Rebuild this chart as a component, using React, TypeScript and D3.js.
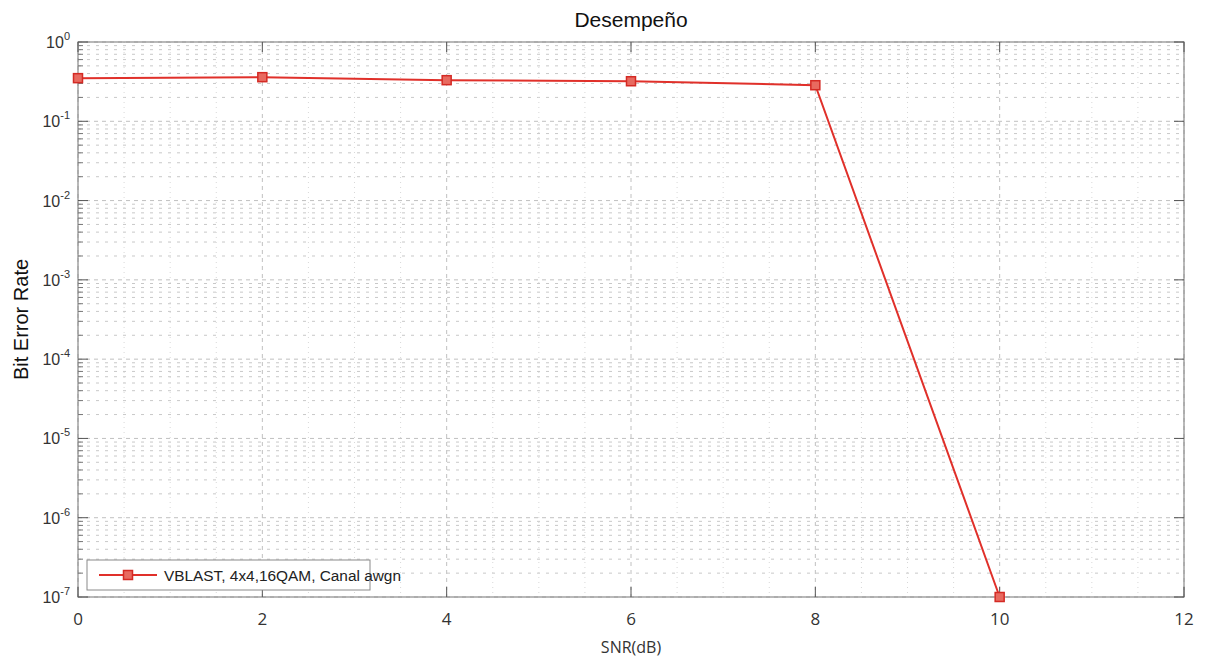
import React, { useRef, useEffect } from "react";
import * as d3 from "d3";

const snr = [0, 2, 4, 6, 8, 10];
const ber = [0.35, 0.36, 0.33, 0.32, 0.285, 1e-7];
const xTicks = [0, 2, 4, 6, 8, 10, 12];
const yExponents = [0, -1, -2, -3, -4, -5, -6, -7];
const seriesName = "VBLAST, 4x4,16QAM, Canal awgn";

const W = 1207;
const H = 658;

const App = () => {
  const ref = useRef<SVGSVGElement>(null);

  useEffect(() => {
    const svg = d3.select(ref.current);
    svg.selectAll("*").remove();

    const margin = { top: 42, right: 23, bottom: 61, left: 78 };
    const width = W - margin.left - margin.right;
    const height = H - margin.top - margin.bottom;

    const x = d3.scaleLinear().domain([0, 12]).range([0, width]);
    const y = d3.scaleLog().domain([1e-7, 1]).range([height, 0]);

    const g = svg
      .append("g")
      .attr("transform", `translate(${margin.left},${margin.top})`);

    // minor horizontal grid
    const minor: number[] = [];
    for (let e = -7; e < 0; e++) {
      for (let m = 2; m <= 9; m++) minor.push(m * Math.pow(10, e));
    }
    g.append("g")
      .selectAll("line")
      .data(minor)
      .enter()
      .append("line")
      .attr("x1", 0)
      .attr("x2", width)
      .attr("y1", (d) => y(d))
      .attr("y2", (d) => y(d))
      .attr("stroke", "#c8c8c8")
      .attr("stroke-width", 1)
      .attr("stroke-dasharray", "3,6");

    // minor vertical grid
    const minorX = d3.range(0, 12.001, 0.5).filter((v) => v % 2 !== 0);
    g.append("g")
      .selectAll("line")
      .data(minorX)
      .enter()
      .append("line")
      .attr("x1", (d) => x(d))
      .attr("x2", (d) => x(d))
      .attr("y1", 0)
      .attr("y2", height)
      .attr("stroke", "#d8d8d8")
      .attr("stroke-width", 1)
      .attr("stroke-dasharray", "1,4");

    // major grids
    g.append("g")
      .selectAll("line")
      .data(yExponents)
      .enter()
      .append("line")
      .attr("x1", 0)
      .attr("x2", width)
      .attr("y1", (d) => y(Math.pow(10, d)))
      .attr("y2", (d) => y(Math.pow(10, d)))
      .attr("stroke", "#c0c0c0")
      .attr("stroke-dasharray", "4,4");
    g.append("g")
      .selectAll("line")
      .data(xTicks)
      .enter()
      .append("line")
      .attr("x1", (d) => x(d))
      .attr("x2", (d) => x(d))
      .attr("y1", 0)
      .attr("y2", height)
      .attr("stroke", "#c0c0c0")
      .attr("stroke-dasharray", "4,4");

    // box
    g.append("rect")
      .attr("width", width)
      .attr("height", height)
      .attr("fill", "none")
      .attr("stroke", "#8a8a8a")
      .attr("stroke-width", 1.2);

    // ticks
    g.append("g")
      .selectAll("g")
      .data(xTicks)
      .enter()
      .append("g")
      .each(function (d) {
        const t = d3.select(this);
        t.append("line")
          .attr("x1", x(d)).attr("x2", x(d))
          .attr("y1", height).attr("y2", height - 10)
          .attr("stroke", "#555");
        t.append("line")
          .attr("x1", x(d)).attr("x2", x(d))
          .attr("y1", 0).attr("y2", 10)
          .attr("stroke", "#555");
      });
    g.append("g")
      .selectAll("g")
      .data(yExponents)
      .enter()
      .append("g")
      .each(function (d) {
        const yy = y(Math.pow(10, d));
        const t = d3.select(this);
        t.append("line").attr("x1", 0).attr("x2", 10).attr("y1", yy).attr("y2", yy).attr("stroke", "#555");
        t.append("line").attr("x1", width).attr("x2", width - 10).attr("y1", yy).attr("y2", yy).attr("stroke", "#555");
      });
    g.append("g")
      .selectAll("line")
      .data(minor)
      .enter()
      .append("line")
      .attr("x1", 0)
      .attr("x2", 5)
      .attr("y1", (d) => y(d))
      .attr("y2", (d) => y(d))
      .attr("stroke", "#777");

    // tick labels
    g.append("g")
      .selectAll("text")
      .data(xTicks)
      .enter()
      .append("text")
      .attr("x", (d) => x(d))
      .attr("y", height + 28)
      .attr("text-anchor", "middle")
      .attr("font-family", "Open Sans, sans-serif")
      .attr("font-size", 17)
      .attr("fill", "#333")
      .text((d) => d);

    const yl = g
      .append("g")
      .selectAll("text")
      .data(yExponents)
      .enter()
      .append("text")
      .attr("x", -8)
      .attr("y", (d) => y(Math.pow(10, d)) + 6)
      .attr("text-anchor", "end")
      .attr("font-family", "Liberation Sans, Arial, sans-serif")
      .attr("font-size", 16)
      .attr("fill", "#333");
    yl.append("tspan").text("10");
    yl.append("tspan")
      .attr("dy", -8)
      .attr("font-size", 11)
      .text((d) => String(d));

    // series
    const pts = snr.map((s, i) => [s, ber[i]] as [number, number]);
    const line = d3
      .line<[number, number]>()
      .x((d) => x(d[0]))
      .y((d) => y(d[1]));
    g.append("path")
      .datum(pts)
      .attr("d", line)
      .attr("fill", "none")
      .attr("stroke", "#e0302a")
      .attr("stroke-width", 2);
    g.append("g")
      .selectAll("rect")
      .data(pts)
      .enter()
      .append("rect")
      .attr("x", (d) => x(d[0]) - 4.5)
      .attr("y", (d) => y(d[1]) - 4.5)
      .attr("width", 9)
      .attr("height", 9)
      .attr("fill", "#e86a60")
      .attr("stroke", "#d42a24")
      .attr("stroke-width", 1.5);

    // legend
    const lg = g.append("g").attr("transform", `translate(9,${height - 37})`);
    lg.append("rect")
      .attr("width", 283)
      .attr("height", 30)
      .attr("fill", "#fff")
      .attr("stroke", "#8a8a8a");
    lg.append("line")
      .attr("x1", 12).attr("x2", 70)
      .attr("y1", 15).attr("y2", 15)
      .attr("stroke", "#e0302a")
      .attr("stroke-width", 2);
    lg.append("rect")
      .attr("x", 36.5).attr("y", 10.5)
      .attr("width", 9).attr("height", 9)
      .attr("fill", "#e86a60")
      .attr("stroke", "#d42a24")
      .attr("stroke-width", 1.5);
    lg.append("text")
      .attr("x", 77)
      .attr("y", 20.5)
      .attr("font-family", "Liberation Sans, Arial, sans-serif")
      .attr("font-size", 15.4)
      .attr("fill", "#222")
      .text(seriesName);

    // titles
    svg.append("text")
      .attr("x", margin.left + width / 2)
      .attr("y", 27)
      .attr("text-anchor", "middle")
      .attr("font-family", "Liberation Sans, Arial, sans-serif")
      .attr("font-size", 21)
      .attr("fill", "#111")
      .text("Desempeño");
    svg.append("text")
      .attr("transform", `translate(28,${margin.top + height / 2}) rotate(-90)`)
      .attr("text-anchor", "middle")
      .attr("font-family", "Liberation Sans, Arial, sans-serif")
      .attr("font-size", 20)
      .attr("fill", "#111")
      .text("Bit Error Rate");
    svg.append("text")
      .attr("x", margin.left + width / 2)
      .attr("y", 653)
      .attr("text-anchor", "middle")
      .attr("font-family", "Open Sans, sans-serif")
      .attr("font-size", 16)
      .attr("fill", "#333")
      .text("SNR(dB)");
  }, []);

  return (
    <svg
      ref={ref}
      width={W}
      height={H}
      style={{ display: "block", position: "absolute", left: 0, top: 0, background: "#fff" }}
    />
  );
};

export default App;
